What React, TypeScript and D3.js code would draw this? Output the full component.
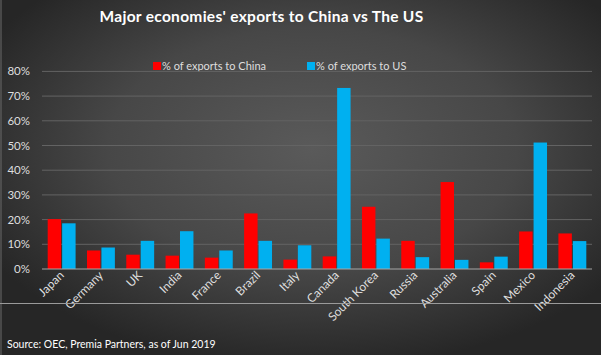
import React from "react";
import * as d3 from "d3";

const countries = ["Japan", "Germany", "UK", "India", "France", "Brazil", "Italy", "Canada", "South Korea", "Russia", "Australia", "Spain", "Mexico", "Indonesia"];
const toChina = [20.2, 7.5, 5.8, 5.4, 4.6, 22.5, 3.8, 5.1, 25.2, 11.4, 35.2, 2.7, 15.2, 14.4];
const toUS = [18.5, 8.7, 11.4, 15.3, 7.5, 11.4, 9.6, 73.3, 12.3, 4.8, 3.7, 5.0, 51.2, 11.3];
const yTicks = [0, 10, 20, 30, 40, 50, 60, 70, 80];
const seriesNames = ["% of exports to China", "% of exports to US"];
const seriesColors = ["#FF0000", "#00B0F0"];
const title = "Major economies' exports to China vs The US";
const source = "Source: OEC, Premia Partners, as of Jun 2019";

export default function App() {
  const W = 603, H = 358;
  const x = d3.scaleBand<string>().domain(countries).range([42, 592]).paddingInner(0.29).paddingOuter(0.145);
  const xs = d3.scaleBand<string>().domain(["c", "u"]).range([0, x.bandwidth()]).paddingInner(0.07);
  const y = d3.scaleLinear().domain([0, 80]).range([269, 71.4]);
  const font = "Lato, 'Open Sans', sans-serif";
  const labelColor = "#dedede";
  return (
    <svg width={W} height={H} style={{ position: "absolute", left: 0, top: 0, background: "#fff" }} fontFamily={font}>
      <defs>
        <radialGradient id="bg" cx="0.52" cy="0.42" r="0.62" fx="0.52" fy="0.42">
          <stop offset="0" stopColor="#5a5a5a" />
          <stop offset="0.55" stopColor="#474747" />
          <stop offset="1" stopColor="#262626" />
        </radialGradient>
      </defs>
      <rect x={0} y={0} width={601} height={355} fill="url(#bg)" />
      <line x1={1} x2={1} y1={0} y2={355} stroke="#6a6a6a" strokeWidth={1} />
      <text x={261.5} y={22} textAnchor="middle" fill="#ffffff" fontWeight="bold" fontSize={15.5} letterSpacing={0.3}>{title}</text>
      {/* legend */}
      <rect x={153} y={62} width={8} height={8} fill={seriesColors[0]} />
      <text x={162} y={70} fill={labelColor} fontSize={11}>{seriesNames[0]}</text>
      <rect x={307} y={62} width={8} height={8} fill={seriesColors[1]} />
      <text x={316} y={70} fill={labelColor} fontSize={11}>{seriesNames[1]}</text>
      {/* gridlines */}
      {yTicks.map((t) => (
        <g key={t}>
          {t > 0 && <line x1={42} x2={592} y1={y(t)} y2={y(t)} stroke="#636363" strokeWidth={1} />}
          <text x={30} y={y(t) + 4} textAnchor="end" fill={labelColor} fontSize={11.5}>{t + "%"}</text>
        </g>
      ))}
      {/* bars */}
      {countries.map((c, i) => (
        <g key={c} transform={`translate(${x(c)},0)`}>
          <rect x={xs("c")} y={y(toChina[i])} width={xs.bandwidth()} height={y(0) - y(toChina[i])} fill={seriesColors[0]} />
          <rect x={xs("u")} y={y(toUS[i])} width={xs.bandwidth()} height={y(0) - y(toUS[i])} fill={seriesColors[1]} />
        </g>
      ))}
      <line x1={42} x2={592} y1={y(0)} y2={y(0)} stroke="#a6a6a6" strokeWidth={1.2} />
      {/* x labels */}
      {countries.map((c) => {
        const cx = (x(c) as number) + x.bandwidth() / 2 + 3;
        const cy = 276;
        return (
          <text key={c} x={cx} y={cy} textAnchor="end" fill={labelColor} fontSize={12} transform={`rotate(-45 ${cx} ${cy})`}>{c}</text>
        );
      })}
      <line x1={0} x2={601} y1={303.5} y2={303.5} stroke="#9a9a9a" strokeWidth={1} />
      <text x={7} y={348} fill="#ffffff" fontSize={10.5}>{source}</text>
    </svg>
  );
}
